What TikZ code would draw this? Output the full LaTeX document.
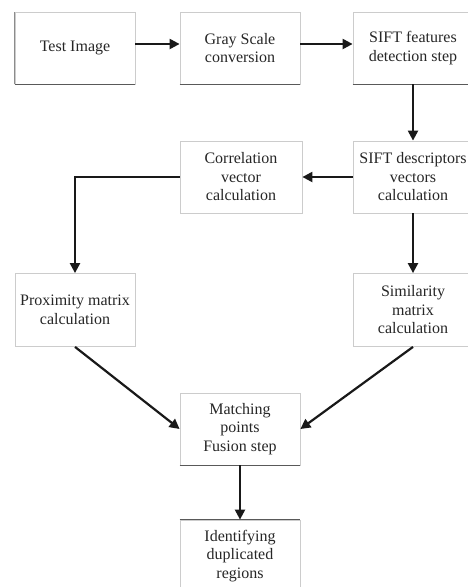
\documentclass[tikz,border=0pt]{standalone}
\usepackage{fontspec}
\setmainfont{Liberation Serif}
\usetikzlibrary{arrows.meta}
\begin{document}
\begin{tikzpicture}[x=1pt,y=-1pt,
  box/.style={draw=gray!40,line width=0.8pt,minimum width=120pt,minimum height=72pt,align=center,inner sep=1pt,font=\fontsize{16}{18.5}\selectfont,text=black!85},
  arr/.style={line width=2.2pt,black!90,-{Triangle[length=10pt,width=10pt]}},
  dk/.style={line width=1pt,black!65}]
\useasboundingbox (0,0) rectangle (468,587);
\node[box] (test) at (75,48) {Test Image};
\node[box] (gray) at (240,48) {Gray Scale\\conversion};
\node[box] (feat) at (413,48) {SIFT features\\detection step};
\node[box,minimum width=122pt] (corr) at (241,177) {Correlation\\vector\\calculation};
\node[box] (desc) at (413,177) {SIFT descriptors\\vectors\\calculation};
\node[box,minimum height=73pt] (prox) at (75,310) {Proximity matrix\\calculation};
\node[box,minimum height=73pt] (sim) at (413,310) {Similarity\\matrix\\calculation};
\node[box] (match) at (240,429) {Matching\\points\\Fusion step};
\node[box] (ident) at (240,556) {Identifying\\duplicated\\regions};
\draw[dk] (test.south west) -- (test.south east);
\draw[dk,black!45] (test.south west) -- (test.north west);
\draw[dk] (gray.south west) -- (gray.south east);
\draw[dk] (feat.south west) -- (feat.south east);
\draw[dk] (match.south west) -- (match.south east);
\draw[dk] (ident.north west) -- (ident.north east);
\draw[arr] (test.east |- 0,44) -- (gray.west |- 0,44);
\draw[arr] (gray.east |- 0,44) -- (feat.west |- 0,44);
\draw[arr] (feat) -- (desc);
\draw[arr] (desc) -- (corr);
\draw[arr] (corr.west) -| (prox.north);
\draw[arr] (desc) -- (sim);
\draw[arr] (prox.south) -- (match.west);
\draw[arr] (sim.south) -- (match.east);
\draw[arr] (match) -- (ident);
\end{tikzpicture}
\end{document}
